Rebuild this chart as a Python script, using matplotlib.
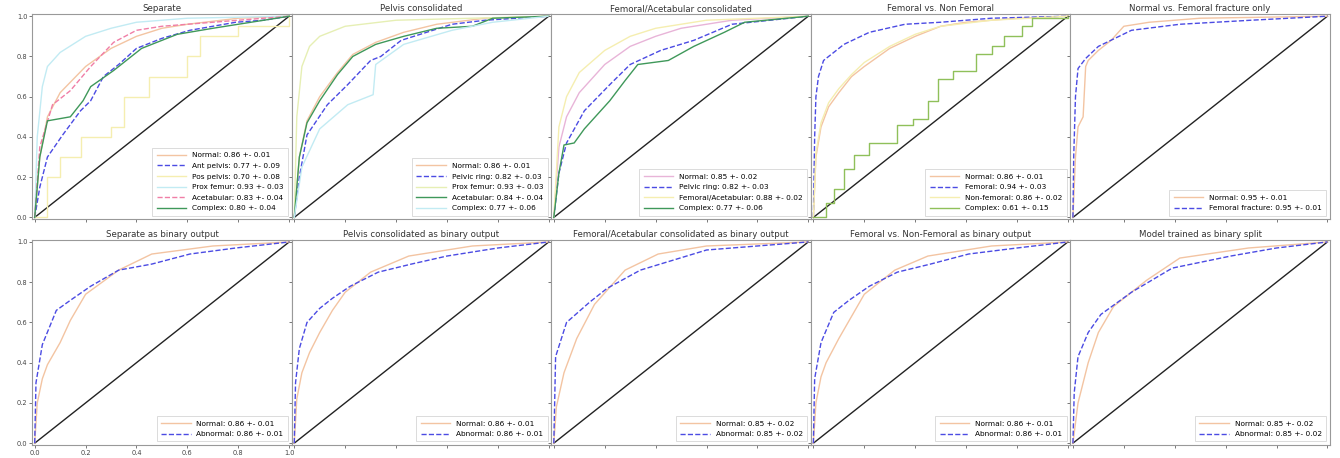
import matplotlib
matplotlib.use("Agg")
import matplotlib.pyplot as plt

# ---------------- data ----------------
titles = ["Separate", "Pelvis consolidated", "Femoral/Acetabular consolidated",
          "Femoral vs. Non Femoral", "Normal vs. Femoral fracture only",
          "Separate as binary output", "Pelvis consolidated as binary output",
          "Femoral/Acetabular consolidated as binary output",
          "Femoral vs. Non-Femoral as binary output", "Model trained as binary split"]

# Panel 1: Separate
p1_normal_x = [0, 0.02, 0.05, 0.1, 0.2, 0.3, 0.4, 0.5, 0.6, 0.8, 1]
p1_normal_y = [0, 0.30, 0.50, 0.62, 0.75, 0.84, 0.90, 0.94, 0.96, 0.99, 1]
p1_ant_x = [0, 0.02, 0.05, 0.11, 0.18, 0.22, 0.27, 0.33, 0.40, 0.50, 0.61, 0.70, 0.79, 0.9, 1]
p1_ant_y = [0, 0.15, 0.30, 0.41, 0.53, 0.58, 0.70, 0.76, 0.84, 0.89, 0.93, 0.95, 0.97, 0.98, 1]
p1_pos_x = [0, 0.05, 0.10, 0.18, 0.30, 0.35, 0.45, 0.60, 0.65, 0.80, 1]
p1_pos_y = [0, 0.20, 0.30, 0.40, 0.45, 0.60, 0.70, 0.80, 0.90, 0.95, 1]
p1_prox_x = [0, 0.01, 0.03, 0.05, 0.1, 0.2, 0.3, 0.4, 0.6, 1]
p1_prox_y = [0, 0.40, 0.65, 0.75, 0.82, 0.90, 0.94, 0.97, 0.99, 1]
p1_acet_x = [0, 0.02, 0.07, 0.14, 0.22, 0.31, 0.40, 0.50, 0.60, 0.80, 1]
p1_acet_y = [0, 0.35, 0.56, 0.63, 0.75, 0.87, 0.93, 0.95, 0.96, 0.98, 1]
p1_comp_x = [0, 0.01, 0.02, 0.05, 0.14, 0.19, 0.22, 0.31, 0.42, 0.56, 0.70, 0.80, 0.9, 1]
p1_comp_y = [0, 0.15, 0.30, 0.48, 0.50, 0.58, 0.65, 0.73, 0.84, 0.91, 0.94, 0.96, 0.98, 1]

# Panel 2: Pelvis consolidated
p2_normal_x = [0, 0.02, 0.05, 0.1, 0.17, 0.23, 0.32, 0.43, 0.56, 0.75, 1]
p2_normal_y = [0, 0.30, 0.48, 0.60, 0.72, 0.81, 0.87, 0.92, 0.96, 0.99, 1]
p2_ring_x = [0, 0.02, 0.05, 0.13, 0.21, 0.30, 0.34, 0.42, 0.62, 0.75, 1]
p2_ring_y = [0, 0.20, 0.41, 0.56, 0.66, 0.78, 0.80, 0.88, 0.96, 0.98, 1]
p2_prox_x = [0, 0.01, 0.03, 0.06, 0.1, 0.2, 0.4, 1]
p2_prox_y = [0, 0.50, 0.75, 0.85, 0.90, 0.95, 0.98, 1]
p2_acet_x = [0, 0.02, 0.05, 0.10, 0.17, 0.23, 0.32, 0.43, 0.56, 0.70, 0.78, 1]
p2_acet_y = [0, 0.30, 0.47, 0.58, 0.71, 0.80, 0.86, 0.90, 0.94, 0.95, 0.99, 1]
p2_comp_x = [0, 0.03, 0.10, 0.21, 0.31, 0.32, 0.43, 0.62, 0.78, 1]
p2_comp_y = [0, 0.25, 0.44, 0.56, 0.61, 0.76, 0.86, 0.93, 0.97, 1]

# Panel 3: Femoral/Acetabular consolidated
p3_normal_x = [0, 0.02, 0.05, 0.1, 0.2, 0.3, 0.4, 0.5, 0.7, 1]
p3_normal_y = [0, 0.35, 0.50, 0.62, 0.76, 0.85, 0.90, 0.94, 0.98, 1]
p3_ring_x = [0, 0.02, 0.05, 0.12, 0.22, 0.30, 0.42, 0.55, 0.70, 1]
p3_ring_y = [0, 0.22, 0.37, 0.53, 0.66, 0.76, 0.83, 0.88, 0.96, 1]
p3_femac_x = [0, 0.02, 0.05, 0.1, 0.2, 0.3, 0.4, 0.6, 1]
p3_femac_y = [0, 0.45, 0.60, 0.72, 0.83, 0.90, 0.94, 0.98, 1]
p3_comp_x = [0, 0.02, 0.04, 0.08, 0.12, 0.22, 0.28, 0.33, 0.45, 0.55, 0.67, 0.75, 1]
p3_comp_y = [0, 0.22, 0.36, 0.37, 0.44, 0.58, 0.68, 0.76, 0.78, 0.85, 0.92, 0.97, 1]

# Panel 4: Femoral vs. Non Femoral
p4_normal_x = [0, 0.01, 0.03, 0.06, 0.1, 0.15, 0.2, 0.3, 0.4, 0.5, 0.6, 0.8, 1]
p4_normal_y = [0, 0.30, 0.45, 0.55, 0.62, 0.70, 0.75, 0.84, 0.90, 0.95, 0.97, 0.99, 1]
p4_fem_x = [0, 0.005, 0.01, 0.02, 0.04, 0.12, 0.22, 0.36, 0.5, 0.7, 1]
p4_fem_y = [0, 0.40, 0.60, 0.70, 0.78, 0.86, 0.92, 0.96, 0.97, 0.99, 1]
p4_nonfem_x = [0, 0.01, 0.03, 0.06, 0.1, 0.15, 0.2, 0.3, 0.4, 0.5, 0.7, 1]
p4_nonfem_y = [0, 0.32, 0.47, 0.57, 0.64, 0.71, 0.77, 0.85, 0.91, 0.95, 0.98, 1]
p4_comp_x = [0, 0.05, 0.08, 0.12, 0.16, 0.22, 0.30, 0.33, 0.39, 0.45, 0.49, 0.55, 0.64, 0.70, 0.75, 0.82, 0.86, 1]
p4_comp_y = [0, 0.07, 0.14, 0.24, 0.31, 0.37, 0.37, 0.46, 0.49, 0.58, 0.69, 0.73, 0.81, 0.85, 0.90, 0.95, 0.99, 1]

# Panel 5: Normal vs. Femoral fracture only
p5_normal_x = [0, 0.01, 0.02, 0.04, 0.05, 0.06, 0.1, 0.15, 0.2, 0.3, 0.5, 1]
p5_normal_y = [0, 0.30, 0.45, 0.50, 0.75, 0.78, 0.83, 0.88, 0.95, 0.97, 0.99, 1]
p5_femfx_x = [0, 0.003, 0.01, 0.02, 0.05, 0.10, 0.23, 0.42, 0.7, 1]
p5_femfx_y = [0, 0.30, 0.60, 0.74, 0.79, 0.85, 0.93, 0.96, 0.98, 1]

# Panel 6: Separate as binary output
p6_normal_x = [0, 0.01, 0.03, 0.05, 0.1, 0.14, 0.2, 0.33, 0.46, 0.7, 1]
p6_normal_y = [0, 0.20, 0.32, 0.39, 0.50, 0.61, 0.74, 0.86, 0.94, 0.98, 1]
p6_abn_x = [0, 0.005, 0.03, 0.085, 0.14, 0.22, 0.33, 0.46, 0.61, 0.79, 1]
p6_abn_y = [0, 0.30, 0.49, 0.66, 0.71, 0.78, 0.86, 0.89, 0.94, 0.97, 1]

# Panel 7: Pelvis consolidated as binary output
p7_normal_x = [0, 0.01, 0.03, 0.06, 0.1, 0.15, 0.2, 0.3, 0.45, 0.7, 1]
p7_normal_y = [0, 0.22, 0.35, 0.45, 0.55, 0.66, 0.75, 0.85, 0.93, 0.98, 1]
p7_abn_x = [0, 0.005, 0.02, 0.05, 0.1, 0.15, 0.22, 0.33, 0.46, 0.6, 0.8, 1]
p7_abn_y = [0, 0.30, 0.47, 0.60, 0.67, 0.72, 0.78, 0.85, 0.89, 0.93, 0.97, 1]

# Panel 8: Femoral/Acetabular consolidated as binary output
p8_normal_x = [0, 0.01, 0.04, 0.09, 0.16, 0.28, 0.41, 0.6, 1]
p8_normal_y = [0, 0.18, 0.35, 0.52, 0.69, 0.86, 0.94, 0.98, 1]
p8_abn_x = [0, 0.007, 0.05, 0.14, 0.21, 0.34, 0.47, 0.60, 0.8, 1]
p8_abn_y = [0, 0.43, 0.60, 0.70, 0.77, 0.86, 0.91, 0.96, 0.98, 1]

# Panel 9: Femoral vs. Non-Femoral as binary output
p9_normal_x = [0, 0.01, 0.03, 0.05, 0.1, 0.15, 0.2, 0.32, 0.45, 0.7, 1]
p9_normal_y = [0, 0.20, 0.33, 0.40, 0.52, 0.63, 0.74, 0.86, 0.93, 0.98, 1]
p9_abn_x = [0, 0.005, 0.03, 0.08, 0.14, 0.22, 0.33, 0.46, 0.61, 0.8, 1]
p9_abn_y = [0, 0.32, 0.50, 0.65, 0.71, 0.78, 0.85, 0.89, 0.94, 0.97, 1]

# Panel 10: Model trained as binary split
p10_normal_x = [0, 0.02, 0.06, 0.10, 0.16, 0.29, 0.42, 0.69, 1]
p10_normal_y = [0, 0.20, 0.40, 0.55, 0.68, 0.81, 0.92, 0.97, 1]
p10_abn_x = [0, 0.005, 0.02, 0.06, 0.11, 0.23, 0.39, 0.62, 0.80, 1]
p10_abn_y = [0, 0.25, 0.43, 0.55, 0.64, 0.75, 0.87, 0.93, 0.97, 1]

# ---------------- styles ----------------
C_NORMAL = "#f3c4a2"
C_BLUE = "#4b4be3"
C_YELLOW = "#f5eeb0"
C_CYAN = "#c2ebf3"
C_PINK = "#f07ea6"
C_GREEN = "#3f985a"
C_LIME = "#e6efb4"
C_OLIVE = "#8fc05a"

panels = [
    [(p1_normal_x, p1_normal_y, "Normal: 0.86 +- 0.01", C_NORMAL, "-", "default"),
     (p1_ant_x, p1_ant_y, "Ant pelvis: 0.77 +- 0.09", C_BLUE, "--", "default"),
     (p1_pos_x, p1_pos_y, "Pos pelvis: 0.70 +- 0.08", C_YELLOW, "-", "steps-post"),
     (p1_prox_x, p1_prox_y, "Prox femur: 0.93 +- 0.03", C_CYAN, "-", "default"),
     (p1_acet_x, p1_acet_y, "Acetabular: 0.83 +- 0.04", C_PINK, "--", "default"),
     (p1_comp_x, p1_comp_y, "Complex: 0.80 +- 0.04", C_GREEN, "-", "default")],
    [(p2_normal_x, p2_normal_y, "Normal: 0.86 +- 0.01", C_NORMAL, "-", "default"),
     (p2_ring_x, p2_ring_y, "Pelvic ring: 0.82 +- 0.03", C_BLUE, "--", "default"),
     (p2_prox_x, p2_prox_y, "Prox femur: 0.93 +- 0.03", C_LIME, "-", "default"),
     (p2_acet_x, p2_acet_y, "Acetabular: 0.84 +- 0.04", C_GREEN, "-", "default"),
     (p2_comp_x, p2_comp_y, "Complex: 0.77 +- 0.06", C_CYAN, "-", "default")],
    [(p3_normal_x, p3_normal_y, "Normal: 0.85 +- 0.02", "#e8b4d8", "-", "default"),
     (p3_ring_x, p3_ring_y, "Pelvic ring: 0.82 +- 0.03", C_BLUE, "--", "default"),
     (p3_femac_x, p3_femac_y, "Femoral/Acetabular: 0.88 +- 0.02", C_YELLOW, "-", "default"),
     (p3_comp_x, p3_comp_y, "Complex: 0.77 +- 0.06", C_GREEN, "-", "default")],
    [(p4_normal_x, p4_normal_y, "Normal: 0.86 +- 0.01", C_NORMAL, "-", "default"),
     (p4_fem_x, p4_fem_y, "Femoral: 0.94 +- 0.03", C_BLUE, "--", "default"),
     (p4_nonfem_x, p4_nonfem_y, "Non-femoral: 0.86 +- 0.02", C_YELLOW, "-", "default"),
     (p4_comp_x, p4_comp_y, "Complex: 0.61 +- 0.15", C_OLIVE, "-", "steps-post")],
    [(p5_normal_x, p5_normal_y, "Normal: 0.95 +- 0.01", C_NORMAL, "-", "default"),
     (p5_femfx_x, p5_femfx_y, "Femoral fracture: 0.95 +- 0.01", C_BLUE, "--", "default")],
    [(p6_normal_x, p6_normal_y, "Normal: 0.86 +- 0.01", C_NORMAL, "-", "default"),
     (p6_abn_x, p6_abn_y, "Abnormal: 0.86 +- 0.01", C_BLUE, "--", "default")],
    [(p7_normal_x, p7_normal_y, "Normal: 0.86 +- 0.01", C_NORMAL, "-", "default"),
     (p7_abn_x, p7_abn_y, "Abnormal: 0.86 +- 0.01", C_BLUE, "--", "default")],
    [(p8_normal_x, p8_normal_y, "Normal: 0.85 +- 0.02", C_NORMAL, "-", "default"),
     (p8_abn_x, p8_abn_y, "Abnormal: 0.85 +- 0.02", C_BLUE, "--", "default")],
    [(p9_normal_x, p9_normal_y, "Normal: 0.86 +- 0.01", C_NORMAL, "-", "default"),
     (p9_abn_x, p9_abn_y, "Abnormal: 0.86 +- 0.01", C_BLUE, "--", "default")],
    [(p10_normal_x, p10_normal_y, "Normal: 0.85 +- 0.02", C_NORMAL, "-", "default"),
     (p10_abn_x, p10_abn_y, "Abnormal: 0.85 +- 0.02", C_BLUE, "--", "default")],
]

fig, axes = plt.subplots(2, 5, figsize=(13.4, 4.58), dpi=100)
fig.subplots_adjust(left=0.024, right=0.9925, top=0.969, bottom=0.028,
                    wspace=0.0, hspace=0.1)

ticks = [0.0, 0.2, 0.4, 0.6, 0.8, 1.0]
for i, ax in enumerate(axes.flat):
    r, c = divmod(i, 5)
    ax.plot([0, 1], [0, 1], color="#222222", lw=1.0)
    for xs, ys, lab, col, ls, ds in panels[i]:
        ax.plot(xs, ys, color=col, ls=ls, lw=1.0, label=lab, drawstyle=ds)
    ax.set_xlim(-0.01, 1.01)
    ax.set_ylim(-0.01, 1.01)
    ax.set_xticks(ticks)
    ax.set_yticks(ticks)
    ax.tick_params(labelsize=4.8, length=2, width=0.5, pad=1.5, colors="#444444")
    if c != 0:
        ax.set_yticklabels([])
    if not (r == 1 and c == 0):
        ax.set_xticklabels([])
    for s in ax.spines.values():
        s.set_color("#999999")
        s.set_linewidth(0.8)
    ax.set_title(titles[i], fontsize=6.2, pad=2, color="#333333")
    leg = ax.legend(loc="lower right", fontsize=5.3, frameon=True,
                    handlelength=4.0, borderpad=0.6, labelspacing=0.6,
                    fancybox=False)
    leg.get_frame().set_edgecolor("#cccccc")
    leg.get_frame().set_linewidth(0.6)

fig.savefig("out.png", dpi=100)
